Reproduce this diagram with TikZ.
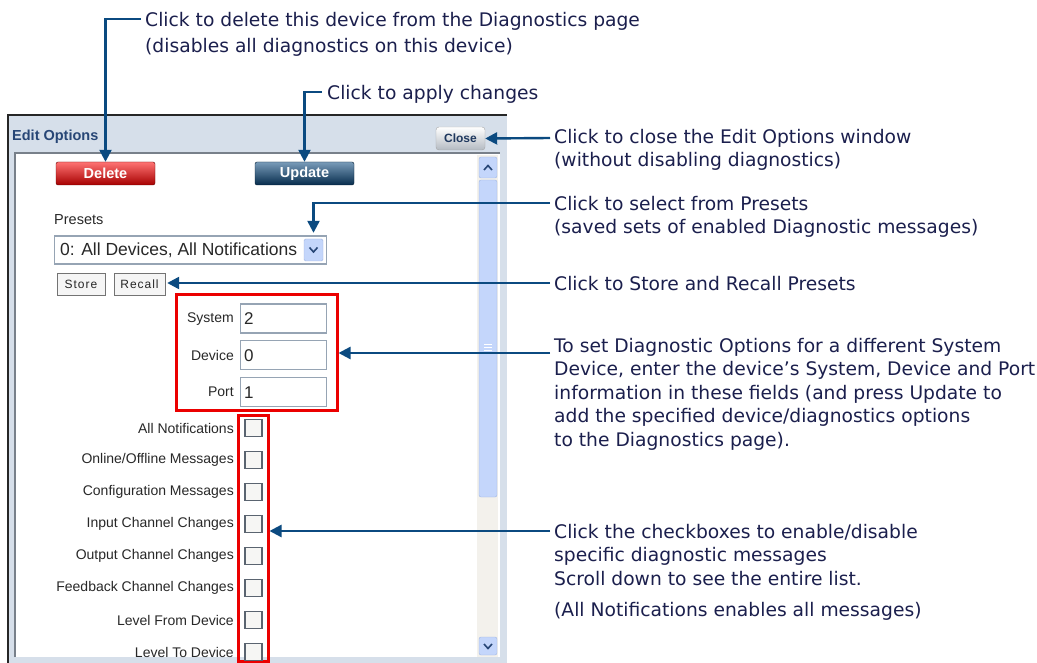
\documentclass[tikz,border=0pt]{standalone}
\usepackage{fontspec}
\setmainfont{Liberation Sans}
\newfontfamily\annfont{DejaVu Sans}
\newfontfamily\btnfont[LetterSpace=8]{Liberation Sans}
\usetikzlibrary{arrows.meta}
\definecolor{anntext}{RGB}{27,31,77}
\definecolor{arrowc}{RGB}{11,74,128}
\definecolor{titlebg}{RGB}{214,223,234}
\definecolor{titletext}{RGB}{39,70,118}
\definecolor{innerborder}{RGB}{120,128,138}
\definecolor{trackc}{RGB}{243,241,236}
\definecolor{thumbc}{RGB}{196,214,251}
\definecolor{thumbb}{RGB}{160,182,226}
\definecolor{uitext}{RGB}{40,40,40}
\definecolor{fieldborder}{RGB}{150,164,180}
\definecolor{chkborder}{RGB}{90,100,112}
\definecolor{chkfill}{RGB}{246,246,244}
\definecolor{redbox}{RGB}{235,0,0}
\tikzset{
  ann/.style={font=\annfont\fontsize{18.7}{23.5}\selectfont, text=anntext, align=left, inner sep=0pt, anchor=north west},
  arr/.style={draw=arrowc, line width=2.4pt, -{Triangle[length=12pt,width=12pt]}},
  lbl/.style={font=\fontsize{14}{16}\selectfont, text=uitext, anchor=east, inner sep=0pt},
  fieldbox/.style={draw=fieldborder, line width=1.2pt, fill=white, minimum width=86pt, minimum height=29pt, anchor=west, inner sep=0pt},
  chk/.style={draw=chkborder, line width=1.1pt, fill=chkfill, minimum size=17pt, inner sep=0pt},
  bigbtn/.style={rounded corners=2pt, minimum width=99pt, minimum height=23pt, inner sep=0pt, text=white, font=\bfseries\fontsize{14.5}{16}\selectfont},
  smallbtn/.style={draw=black!55, fill=black!4, minimum height=22pt, inner sep=0pt, font=\btnfont\fontsize{12}{14}\selectfont, text=black!85},
  redframe/.style={draw=redbox, line width=3pt, inner sep=0pt},
  chev/.style={draw=titletext, line width=1.6pt},
}
\begin{document}
\begin{tikzpicture}[x=1pt,y=-1pt]
\useasboundingbox (0,0) rectangle (1037,663);
\fill[white] (0,0) rectangle (1037,663);

% ---------- window ----------
\fill[titlebg] (8,115) rectangle (507,663);
\draw[black!85, line width=1.5pt] (8,663) -- (8,115) -- (507,115);
\fill[white] (15,153) rectangle (500,657);
\draw[innerborder, line width=2pt] (15,657) -- (15,153) -- (500,153);
\node[anchor=west, inner sep=0pt, text=titletext, font=\bfseries\fontsize{14.5}{16}\selectfont] (title) at (12,137) {Edit Options};

\node[draw=black!35, rounded corners=3pt, top color=white, bottom color=titlebg!80!black!90, minimum width=49pt, minimum height=23pt, inner sep=0pt, text=titletext!80!black, font=\bfseries\fontsize{12}{14}\selectfont] (close) at (460.5,138.5) {Close};

% scrollbar
\fill[trackc] (477,155) rectangle (498,657);
\draw[thumbb, fill=thumbc, rounded corners=2pt] (479,157) rectangle (497,178);
\draw[chev] (484,170) -- (488,165.5) -- (492,170);
\draw[thumbb, fill=thumbc, rounded corners=2pt] (479,180) rectangle (497,497);
\foreach \yy in {344,347,350} \draw[white, line width=0.8pt] (484,\yy) -- (492,\yy);
\draw[thumbb, fill=thumbc, rounded corners=2pt] (479,637) rectangle (497,655);
\draw[chev] (484,644) -- (488,648.5) -- (492,644);

% buttons
\node[bigbtn, top color=red!55!white, bottom color=red!65!black, draw=red!40!black] (del) at (105.5,173.5) {Delete};
\node[bigbtn, top color=arrowc!55!white, bottom color=arrowc!60!black, draw=arrowc!40!black] (upd) at (304.5,173.5) {Update};

% presets
\node[anchor=west, inner sep=0pt, text=uitext, font=\fontsize{14.5}{16}\selectfont] (presets) at (54,220) {Presets};
\node[draw=fieldborder, line width=1.2pt, fill=white, minimum width=272pt, minimum height=28pt, anchor=west, inner sep=0pt] (dd) at (54,250) {};
\node[anchor=west, inner sep=0pt, text=uitext, font=\fontsize{17.5}{19}\selectfont] (ddtext) at (60,250) {0: All Devices, All Notifications};
\node[draw=thumbb, fill=thumbc, rounded corners=1.5pt, minimum width=19pt, minimum height=22pt, inner sep=0pt] (ddarrow) at (313.5,250) {};
\draw[chev] (309.5,247.5) -- (313.5,252) -- (317.5,247.5);

\node[smallbtn, minimum width=48pt] (store) at (81,284) {Store};
\node[smallbtn, minimum width=51pt] (recall) at (139.5,284) {Recall};

% fields
\node[redframe, minimum width=161pt, minimum height=115pt] (fields) at (256.5,352.5) {};
\node[lbl] (lsys) at (234,319) {System};
\node[fieldbox] (fsys) at (240,318.5) {};
\node[anchor=west, inner sep=0pt, font=\fontsize{17}{19}\selectfont, text=uitext] (vsys) at (244,319) {2};
\node[lbl] (ldev) at (234,355) {Device};
\node[fieldbox] (fdev) at (240,355) {};
\node[anchor=west, inner sep=0pt, font=\fontsize{17}{19}\selectfont, text=uitext] (vdev) at (244,356) {0};
\node[lbl] (lport) at (234,392) {Port};
\node[fieldbox] (fport) at (240,392) {};
\node[anchor=west, inner sep=0pt, font=\fontsize{17}{19}\selectfont, text=uitext] (vport) at (244,393) {1};

% checkboxes
\node[redframe, minimum width=30pt, minimum height=246pt] (checks) at (253,538) {};
\foreach \lab/\yy [count=\i] in {{All Notifications}/428, {Online/Offline Messages}/460, {Configuration Messages}/492, {Input Channel Changes}/524, {Output Channel Changes}/556, {Feedback Channel Changes}/588, {Level From Device}/620, {Level To Device}/652}{
  \node[lbl] (cl\i) at (234,\yy) {\lab};
  \node[chk] (cb\i) at (253.5,\yy) {};
}

% ---------- annotations ----------
\node[ann] (t1) at (145,12) {Click to delete this device from the Diagnostics page\\[3pt](disables all diagnostics on this device)};
\node[ann] (t2) at (327,85) {Click to apply changes};
\node[ann] (t3) at (554,129) {Click to close the Edit Options window\\(without disabling diagnostics)};
\node[ann] (t4) at (554,196) {Click to select from Presets\\(saved sets of enabled Diagnostic messages)};
\node[ann] (t5) at (554,276) {Click to Store and Recall Presets};
\node[ann] (t6) at (554,338) {To set Diagnostic Options for a different System\\Device, enter the device’s System, Device and Port\\information in these fields (and press Update to\\add the specified device/diagnostics options\\to the Diagnostics page).};
\node[ann] (t7) at (554,524) {Click the checkboxes to enable/disable\\specific diagnostic messages\\Scroll down to see the entire list.\\[8pt](All Notifications enables all messages)};

\coordinate (c1) at (141,19);
\coordinate (c2) at (322,92);
\coordinate (c3) at (550,138);
\coordinate (c4) at (550,203);
\coordinate (c5) at (550,283);
\coordinate (c6) at (550,353);
\coordinate (c7) at (550,531);

\draw[arr] (c1) -| (del.north);
\draw[arr] (c2) -| (upd.north);
\draw[arr] (c3) -- (close.east);
\draw[arr, shorten >=6pt] (c4) -| (ddarrow.north);
\draw[arr, shorten >=2pt] (c5) -- (recall.east |- c5);
\draw[arr] (c6) -- (fields.east |- c6);
\draw[arr] (c7) -- (checks.east |- c7);
\end{tikzpicture}
\end{document}
